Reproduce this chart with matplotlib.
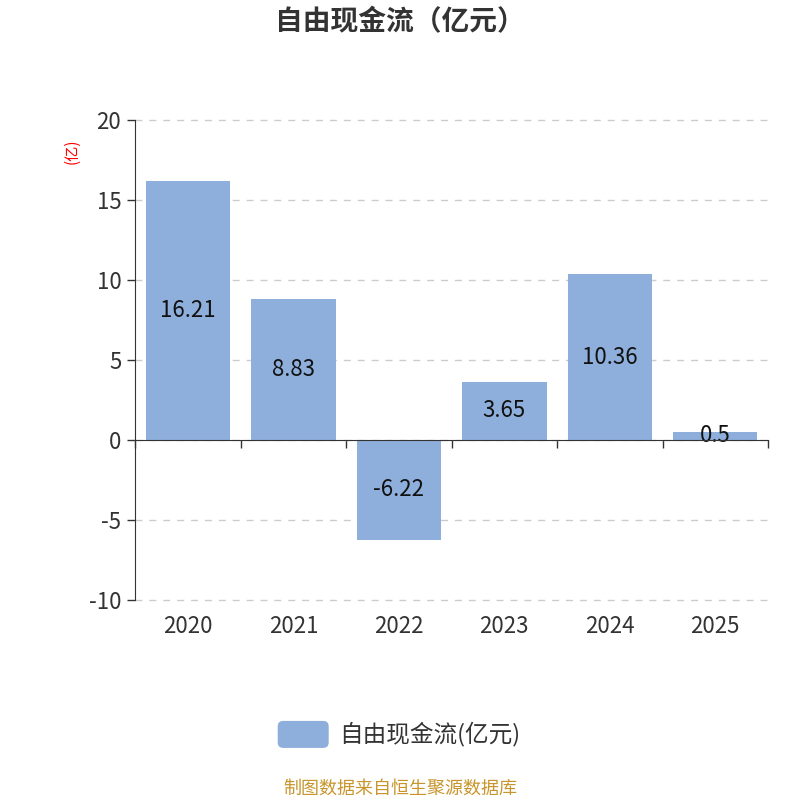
import matplotlib.pyplot as plt
import matplotlib.transforms as mtransforms
from matplotlib.patches import FancyBboxPatch

plt.rcParams['font.family'] = ['Noto Sans CJK SC', 'DejaVu Sans']
plt.rcParams['axes.unicode_minus'] = False

# data
years = ['2020', '2021', '2022', '2023', '2024', '2025']
fcf = [16.21, 8.83, -6.22, 3.65, 10.36, 0.5]
labels = ['16.21', '8.83', '-6.22', '3.65', '10.36', '0.5']

bar_color = '#8eaedb'

fig = plt.figure(figsize=(8, 8), dpi=100)
ax = fig.add_axes([0.169, 0.25, 0.791, 0.60])

x = list(range(len(years)))
ax.bar(x, fcf, width=0.8, color=bar_color, zorder=2)

for xi, v, lab in zip(x, fcf, labels):
    ax.text(xi, v / 2, lab, ha='center', va='center', fontsize=16, color='#111111', zorder=3)

ax.set_xlim(-0.5, len(years) - 0.5)
ax.set_ylim(-10, 20)
ax.set_yticks([-10, -5, 0, 5, 10, 15, 20])
ax.set_yticklabels(['-10', '-5', '0', '5', '10', '15', '20'], fontsize=16, color='#333333')
ax.tick_params(axis='y', length=6, width=1, color='#333333', pad=4)
ax.yaxis.grid(True, linestyle=(0, (5, 5)), color='#cccccc', linewidth=1, zorder=0)
for gl in ax.get_ygridlines():
    gl.set_clip_on(False)

for s in ['top', 'right']:
    ax.spines[s].set_visible(False)
ax.spines['left'].set_color('#333333')
ax.spines['bottom'].set_position(('data', 0))
ax.spines['bottom'].set_color('#333333')
ax.spines['bottom'].set_zorder(4)

# category boundary ticks on zero line
ax.set_xticks([i - 0.5 for i in range(len(years) + 1)])
ax.set_xticklabels([])
ax.tick_params(axis='x', length=6, width=1, color='#333333', direction='out')

trans = mtransforms.blended_transform_factory(ax.transData, ax.transAxes)
for xi, yr in zip(x, years):
    ax.text(xi, -0.056, yr, transform=trans, ha='center', va='center', fontsize=16, color='#333333')

ax.text(-0.1, 0.935, '(亿)', transform=ax.transAxes, rotation=90, ha='center', va='center',
        fontsize=11, color='red')

fig.text(0.5, 0.972, '自由现金流（亿元）', ha='center', va='center', fontsize=20,
         fontweight='bold', color='#333333')

# legend
patch = FancyBboxPatch((0.348, 0.066), 0.062, 0.032, boxstyle='round,pad=0,rounding_size=0.006',
                       transform=fig.transFigure, color=bar_color)
fig.patches.append(patch)
fig.text(0.424, 0.082, '自由现金流(亿元)', ha='left', va='center', fontsize=17, color='#333333')

fig.text(0.5, 0.014, '制图数据来自恒生聚源数据库', ha='center', va='center', fontsize=13,
         color='#c8952c')

fig.savefig('out.png', dpi=100)
